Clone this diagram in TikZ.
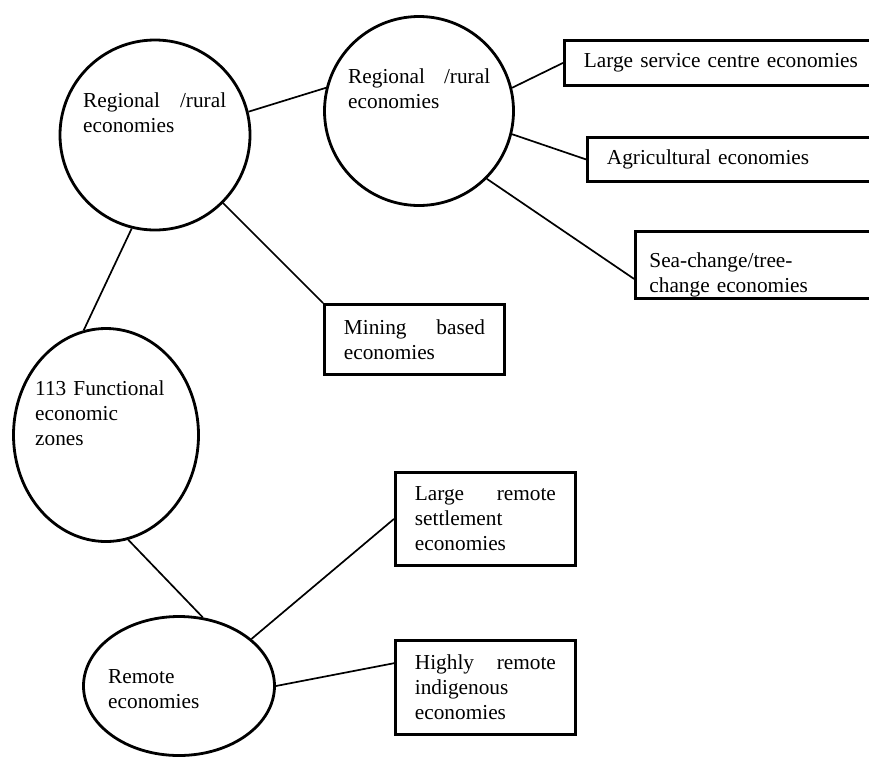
\documentclass[tikz,border=0pt]{standalone}
\usepackage{fontspec}
\setmainfont{Liberation Serif}
\usetikzlibrary{
    calc,
    shapes.geometric,
}

\begin{document}
\begin{tikzpicture}[
        x=1pt, y=-1pt,
        font=\fontsize{21.3}{25.2}\selectfont,
        zone/.style={ellipse, draw=black, line width=2.8pt, inner sep=0pt},
        zonetext/.style={anchor=base west, inner sep=0pt, align=left},
        sector/.style={rectangle, draw=black, line width=2.8pt, inner sep=0pt, inner xsep=19.5pt, anchor=north west, align=left},
        link/.style={line width=1.7pt},
        ]
        \useasboundingbox (0,0) rectangle (869,756);
        \clip (0,0) rectangle (869,756);
        % zones
        \node[zone, minimum width=190pt, minimum height=190pt] (REG1) at (155,135) {};
        \node[zone, minimum width=189pt, minimum height=189pt] (REG2) at (419,111) {};
        \node[zone, minimum width=185pt, minimum height=213pt] (FEZ)  at (106,435) {};
        \node[zone, minimum width=191pt, minimum height=139pt] (REM)  at (179,686) {};
        \node[zonetext, text width=143pt] (REG1T) at (83,107)  {Regional\hfill/rural\\economies};
        \node[zonetext, text width=142pt] (REG2T) at (348,83)  {Regional\hfill/rural\\economies};
        \node[zonetext, text width=135pt] (FEZT)  at (35,395)  {113 Functional\\economic\\zones};
        \node[zonetext, text width=110pt] (REMT)  at (108,683) {Remote\\economies};
        % sectors
        \node[sector, text width=291pt, minimum height=45pt] (LSC) at (563,39)  {Large service centre economies};
        \node[sector, text width=261pt, minimum height=44pt] (AGR) at (586,136) {Agricultural economies};
        \node[sector, text width=232pt, minimum height=67pt, inner xsep=14pt] (SEA) at (634,230) {\rule{0pt}{35pt}Sea-change/tree-\\change economies};
        \node[sector, text width=141pt, minimum height=70pt] (MIN) at (323,303) {Mining\hfill based\\economies};
        \node[sector, text width=141pt, minimum height=93pt] (LRS) at (394,471) {Large\hfill remote\\settlement\\economies};
        \node[sector, text width=141pt, minimum height=94pt] (HRI) at (394,639) {Highly\hfill remote\\indigenous\\economies};
        % links
        \draw[link] (REG1.14) -- (REG2.166);
        \draw[link] (REG2.14) -- (LSC.west);
        \draw[link] (REG2.346) -- (AGR.west);
        \draw[link] (REG2.315) -- ($(SEA.south west)!0.3!(SEA.north west)$);
        \draw[link] (REG1.315) -- (MIN.north west);
        \draw[link] (REG1.256) -- (FEZ.102);
        \draw[link] (FEZ.282) -- (REM.71);
        \draw[link] (REM.33) -- (LRS.west);
        \draw[link] (REM.east) -- ($(HRI.north west)!0.25!(HRI.south west)$);
\end{tikzpicture}
\end{document}
